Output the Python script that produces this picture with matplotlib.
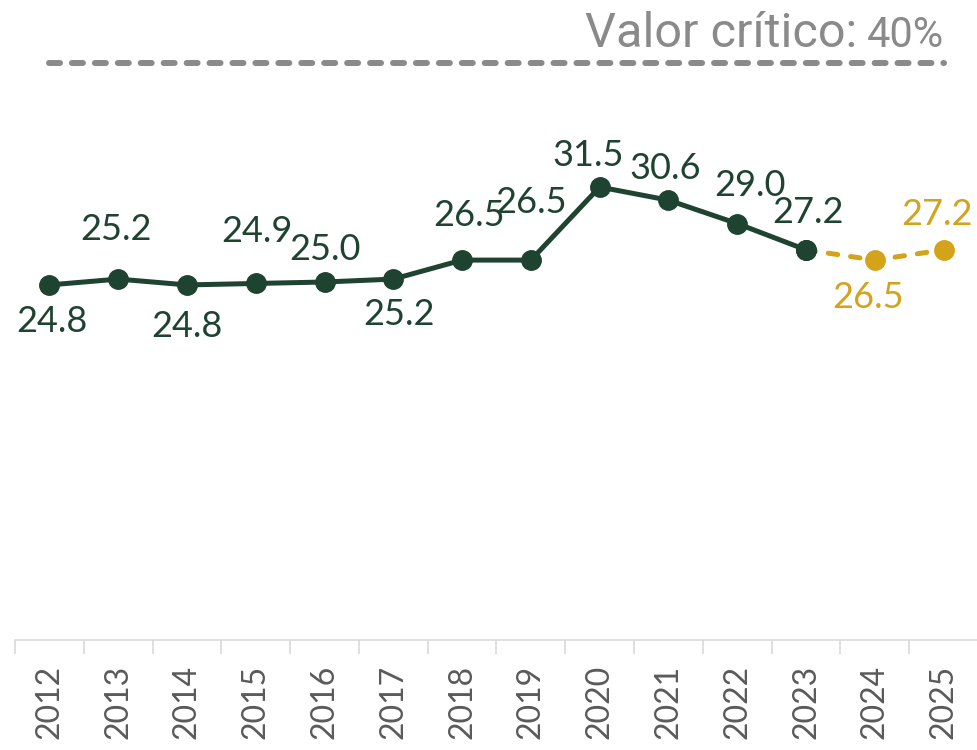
import matplotlib
matplotlib.use("Agg")
import matplotlib.pyplot as plt

# data
years = ["2012", "2013", "2014", "2015", "2016", "2017", "2018",
         "2019", "2020", "2021", "2022", "2023", "2024", "2025"]
observed = [24.8, 25.2, 24.8, 24.9, 25.0, 25.2, 26.5, 26.5, 31.5, 30.6, 29.0, 27.2]
projected = [27.2, 26.5, 27.2]          # 2023 (link), 2024, 2025
critical_value = 40

GREEN = "#1f4331"
GOLD = "#d3a31b"
GREY = "#8a8a8a"

plt.rcParams["font.family"] = ["Lato", "DejaVu Sans"]

fig = plt.figure(figsize=(9.78, 7.5), dpi=100)
ax = fig.add_axes([15 / 978, 110 / 750, 963 / 978, 640 / 750])

x_obs = list(range(len(observed)))
x_proj = list(range(len(observed) - 1, len(years)))

ax.plot(x_obs, observed, color=GREEN, lw=3.6, marker="o", ms=14,
        solid_capstyle="round", zorder=3)
ax.plot(x_proj, projected, color=GOLD, lw=3.6, ls=(0, (1.9, 2.6)), marker="o",
        ms=14, dash_capstyle="round", zorder=2)
# redraw the 2023 marker on top
ax.plot(x_obs[-1:], observed[-1:], color=GREEN, marker="o", ms=14, zorder=4)

# critical value line
ax.plot([0, len(years) - 1], [critical_value, critical_value], color=GREY,
        lw=4.3, ls=(0, (1.84, 2.0)), dash_capstyle="round")
ax.annotate("40%", xy=(len(years) - 1, critical_value + 1.1),
            ha="right", va="baseline", fontsize=30, color=GREY,
            family=["Roboto", "DejaVu Sans"])
ax.annotate("Valor crítico:", xy=(len(years) - 1, critical_value + 1.1),
            xytext=(-62, 0), textcoords="offset points", ha="right",
            va="baseline", fontsize=35, color=GREY,
            family=["Roboto", "DejaVu Sans"])

# data labels: offsets in pixels (dx, dy up)
offsets = [(2, -37), (-2, 50), (0, -42), (1, 52), (0, 33), (6, -35), (7, 45),
           (0, 58), (-12, 32), (-3, 32), (13, 38), (2, 37), (-7, -37), (-7, 35)]
values = observed + projected[1:]
for i, (v, (dx, dy)) in enumerate(zip(values, offsets)):
    col = GREEN if i < len(observed) else GOLD
    ax.annotate(f"{v:.1f}", xy=(i, v), xytext=(dx * 0.72, dy * 0.72),
                textcoords="offset points", ha="center", va="center",
                fontsize=26, color=col)

ax.set_xlim(-0.5, len(years) - 0.5)
ax.set_ylim(0.5, 44.3)
ax.set_yticks([])
ax.set_xticks(range(len(years)))
ax.set_xticklabels(years, rotation=90, fontsize=23, color="#5a5a5a")
ax.set_xticks([i - 0.5 for i in range(len(years) + 1)], minor=True)
ax.tick_params(axis="x", which="major", length=0, pad=18)
ax.tick_params(axis="x", which="minor", length=10, color="#d9d9d9", width=1.2)
for s in ["left", "right", "top"]:
    ax.spines[s].set_visible(False)
ax.spines["bottom"].set_color("#d9d9d9")
ax.spines["bottom"].set_linewidth(1.2)

fig.savefig("out.png", dpi=100)
